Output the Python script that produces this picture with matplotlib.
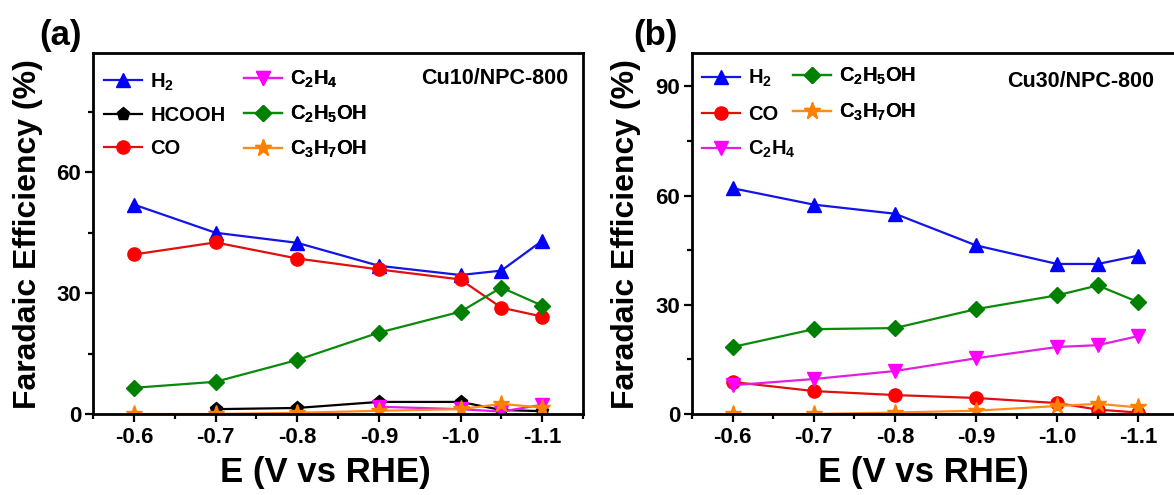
import numpy as np
import matplotlib
matplotlib.use("Agg")
import matplotlib.pyplot as plt
from matplotlib.ticker import MultipleLocator, FixedLocator

plt.rcParams['font.family'] = ['Liberation Sans', 'DejaVu Sans']
plt.rcParams['font.weight'] = 'bold'
plt.rcParams['mathtext.default'] = 'regular'

# Applied potential (V vs RHE)
potential = [-0.6, -0.7, -0.8, -0.9, -1.0, -1.05, -1.1]
xticks = [-0.6, -0.7, -0.8, -0.9, -1.0, -1.1]
xtick_labels = ['-0.6', '-0.7', '-0.8', '-0.9', '-1.0', '-1.1']

# Faradaic efficiencies (%) for Cu10/NPC-800 (nan = not detected)
a_h2 = [52.0, 45.0, 42.5, 36.8, 34.5, 35.6, 43.0]
a_hcooh = [np.nan, 1.2, 1.5, 3.0, 3.0, 1.0, 0.7]
a_co = [39.6, 42.6, 38.6, 35.9, 33.4, 26.4, 24.2]
a_c2h4 = [np.nan, np.nan, np.nan, 1.8, 1.2, 0.6, 2.3]
a_c2h5oh = [6.5, 8.0, 13.4, 20.2, 25.4, 31.4, 26.9]
a_c3h7oh = [0.0, 0.0, 0.3, 0.8, 1.2, 2.5, 1.6]

# Faradaic efficiencies (%) for Cu30/NPC-800
b_h2 = [62.0, 57.5, 55.0, 46.3, 41.2, 41.2, 43.5]
b_co = [8.8, 6.3, 5.2, 4.4, 3.0, 1.2, 0.4]
b_c2h4 = [7.9, 9.6, 11.8, 15.3, 18.4, 18.9, 21.4]
b_c2h5oh = [18.4, 23.3, 23.6, 28.8, 32.6, 35.3, 30.7]
b_c3h7oh = [0.0, 0.0, 0.4, 0.9, 2.2, 2.8, 1.8]

# label, marker, size, face/edge colour, line colour
styles = {
    'H2':     ('H$_2$',         '^', 10.0, '#0000FF', '#1414E6'),
    'HCOOH':  ('HCOOH',         'p', 9.5,  '#000000', '#000000'),
    'CO':     ('CO',            'o', 9.5,  '#FF0000', '#E01010'),
    'C2H4':   ('C$_2$H$_4$',    'v', 10.0, '#FF00FF', '#E020E0'),
    'C2H5OH': ('C$_2$H$_5$OH',  'D', 8.0,  '#008000', '#0A8A0A'),
    'C3H7OH': ('C$_3$H$_7$OH',  '*', 12.5, '#FF8000', '#FF8C1A'),
}

W, H = 1174, 495
fig = plt.figure(figsize=(W / 100, H / 100), dpi=100)

ax_a = fig.add_axes([93 / W, 81 / H, 490 / W, 360.5 / H])
ax_b = fig.add_axes([692 / W, 81 / H, 487 / W, 360.5 / H])


def draw(ax, series):
    handles = {}
    for key, y in series:
        label, mk, ms, fc, lc = styles[key]
        line, = ax.plot(potential, y, color=lc, lw=1.6, marker=mk, ms=ms,
                        mfc=fc, mec=fc, mew=1.0, label=label)
        handles[key] = line
    return handles


def style_axes(ax, ylim, ymajor, ylabel_x):
    ax.set_xlim(-0.55, -1.15)
    ax.set_ylim(*ylim)
    ax.xaxis.set_major_locator(FixedLocator(xticks))
    ax.set_xticklabels(xtick_labels)
    ax.xaxis.set_minor_locator(MultipleLocator(0.05))
    ax.yaxis.set_major_locator(MultipleLocator(ymajor))
    ax.yaxis.set_minor_locator(MultipleLocator(ymajor / 2))
    for sp in ax.spines.values():
        sp.set_linewidth(2.0)
    ax.tick_params(which='major', direction='out', length=6, width=1.6,
                   labelsize=16, pad=3.5, top=False, right=False)
    ax.tick_params(which='minor', direction='out', length=3.5, width=1.6,
                   top=False, right=False)
    ax.tick_params(axis='y', which='major', pad=2.5)
    for lbl in ax.get_xticklabels() + ax.get_yticklabels():
        lbl.set_fontweight('bold')
    ax.set_xlabel('E (V vs RHE)', fontsize=25, fontweight='bold')
    ax.set_ylabel('Faradaic Efficiency (%)', fontsize=23, fontweight='bold')
    ax.xaxis.set_label_coords(0.475, -0.117)
    ax.yaxis.set_label_coords(ylabel_x, 0.5)


def column_legend(ax, lines, anchor, spacing):
    leg = ax.legend(handles=lines, loc='center left', bbox_to_anchor=anchor,
                    frameon=False, fontsize=14.5, borderpad=0, borderaxespad=0,
                    handlelength=1.9, handletextpad=0.4, labelspacing=spacing,
                    numpoints=1)
    ax.add_artist(leg)
    return leg


# Panel (a)
ha = draw(ax_a, [('H2', a_h2), ('HCOOH', a_hcooh), ('CO', a_co),
                 ('C2H4', a_c2h4), ('C2H5OH', a_c2h5oh), ('C3H7OH', a_c3h7oh)])
style_axes(ax_a, (0, 89.5), 30, -0.102)
column_legend(ax_a, [ha['H2'], ha['HCOOH'], ha['CO']], (0.0224, 0.830), 0.68)
column_legend(ax_a, [ha['C2H4'], ha['C2H5OH'], ha['C3H7OH']], (0.308, 0.830), 0.68)
ax_a.text(0.969, 0.931, 'Cu10/NPC-800', transform=ax_a.transAxes, ha='right',
          va='center', fontsize=15.5, fontweight='bold')

# Panel (b)
hb = draw(ax_b, [('H2', b_h2), ('CO', b_co), ('C2H4', b_c2h4),
                 ('C2H5OH', b_c2h5oh), ('C3H7OH', b_c3h7oh)])
style_axes(ax_b, (0, 99), 30, -0.105)
column_legend(ax_b, [hb['H2'], hb['CO'], hb['C2H4']], (0.0205, 0.832), 0.75)
column_legend(ax_b, [hb['C2H5OH'], hb['C3H7OH']], (0.207, 0.886), 0.75)
ax_b.text(0.949, 0.922, 'Cu30/NPC-800', transform=ax_b.transAxes, ha='right',
          va='center', fontsize=15.5, fontweight='bold')

fig.text(39.5 / W, 1 - 36 / H, '(a)', fontsize=25, fontweight='bold',
         ha='left', va='center')
fig.text(633 / W, 1 - 36 / H, '(b)', fontsize=25, fontweight='bold',
         ha='left', va='center')

fig.savefig('out.png', dpi=100)
